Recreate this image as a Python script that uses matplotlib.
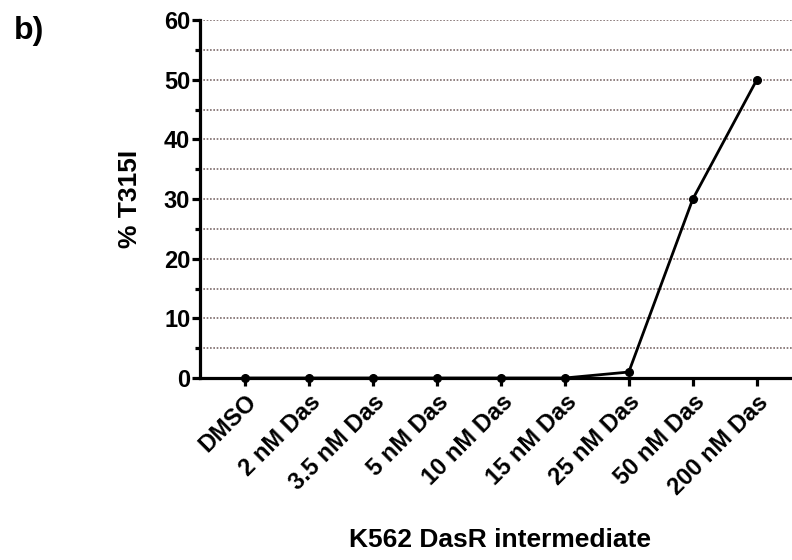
import matplotlib.pyplot as plt
import numpy as np

# K562 DasR intermediate: T315I fraction per treatment
conditions = ['DMSO', '2 nM Das', '3.5 nM Das', '5 nM Das', '10 nM Das',
              '15 nM Das', '25 nM Das', '50 nM Das', '200 nM Das']
t315i_pct = [0, 0, 0, 0, 0, 0, 1, 30, 50]
y_ticks = [0, 10, 20, 30, 40, 50, 60]

plt.rcParams['font.family'] = ['Liberation Sans', 'DejaVu Sans']
plt.rcParams['font.weight'] = 'bold'

fig = plt.figure(figsize=(7.92, 5.6), dpi=100)
ax = fig.add_axes([0.2525, 0.325, 0.7475, 0.639])

x = np.arange(len(conditions))

# dotted horizontal grid every 5 %
for yv in np.arange(5, 61, 5):
    ax.axhline(yv, color='#7d6b6b', linestyle=(0, (1, 1)), linewidth=1.2, zorder=1)

ax.plot(x, t315i_pct, color='black', linewidth=2.0, marker='o',
        markersize=5.5, zorder=3, clip_on=False)

ax.set_xlim(-0.7, 8.55)
ax.set_ylim(0, 60)
ax.set_xticks(x)
ax.set_xticklabels(conditions, rotation=45, ha='right', rotation_mode='anchor',
                   fontsize=17, fontweight='bold')
ax.set_yticks(y_ticks)
ax.set_yticks(np.arange(5, 60, 10), minor=True)
ax.set_yticklabels([str(v) for v in y_ticks], fontsize=17, fontweight='bold')

for side in ['top', 'right']:
    ax.spines[side].set_visible(False)
for side in ['left', 'bottom']:
    ax.spines[side].set_linewidth(2.3)
ax.tick_params(axis='both', which='major', length=6, width=2.3, direction='out', pad=1)
ax.tick_params(axis='y', which='minor', length=3.5, width=2.3, direction='out')
ax.tick_params(axis='x', pad=3)

ax.set_ylabel('% T315I', fontsize=19, fontweight='bold', labelpad=16)
fig.text(0.631, 0.035, 'K562 DasR intermediate', ha='center', va='center',
         fontsize=19, fontweight='bold')
fig.text(0.018, 0.945, 'b)', ha='left', va='center', fontsize=23, fontweight='bold')

fig.savefig('out.png', dpi=100)
